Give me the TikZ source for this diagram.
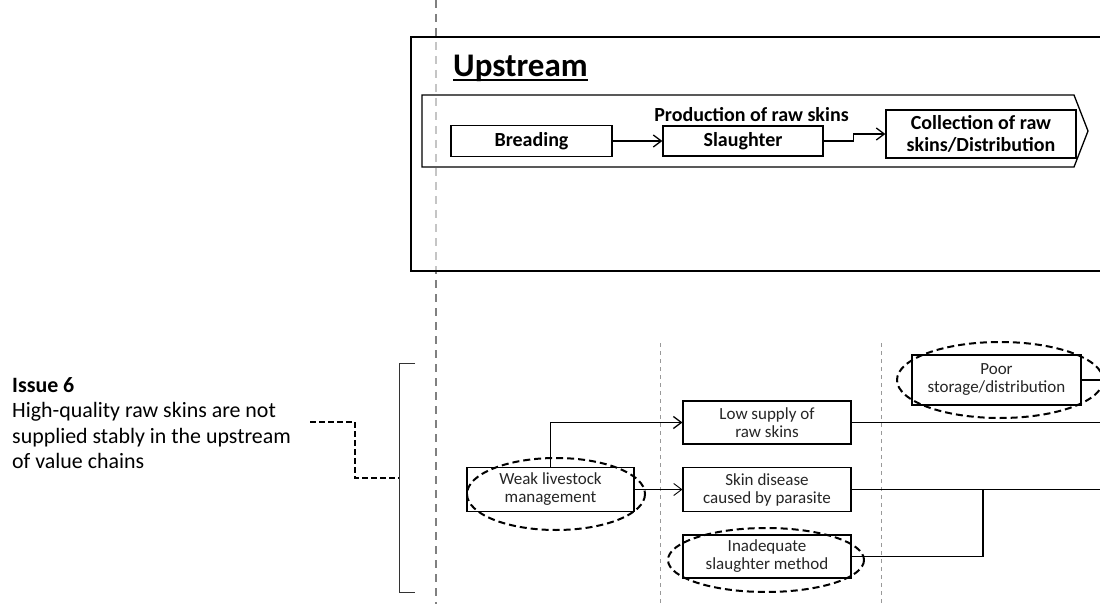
\documentclass[tikz,border=0pt]{standalone}
\usepackage{fontspec}
\setmainfont{Carlito}
\usetikzlibrary{arrows.meta}
\begin{document}
\begin{tikzpicture}[x=1pt,y=-1pt,
  box/.style={draw, line width=1.3pt, fill=white, inner sep=0pt, align=center},
  upbox/.style={box, font=\bfseries\fontsize{20}{21.5}\selectfont},
  lowbox/.style={box, line width=1.1pt, font=\fontsize{17}{18}\selectfont, text=black!85},
  flow/.style={line width=1.3pt, -{Straight Barb[length=8pt,width=12pt]}},
  link/.style={line width=1.3pt},
  ring/.style={line width=2pt, dash pattern=on 7pt off 4pt},
  issuelink/.style={line width=2pt, dash pattern=on 6pt off 3pt},
  mainaxis/.style={line width=2pt, black!50, dash pattern=on 8pt off 6pt},
  subaxis/.style={line width=0.9pt, black!40, dash pattern=on 4pt off 4pt},
  bracket/.style={line width=0.9pt, black!80}
]
\fill[white] (0,0) rectangle (1100,604);
\clip (0,0) rectangle (1100,604);

% value-chain axis
\draw[mainaxis] (436,0) -- (436,604);

% upstream panel
\draw[line width=1.3pt, fill=white, fill opacity=0.55] (411,37) rectangle (1112,271);
\node[anchor=base west, inner sep=0pt, font=\bfseries\fontsize{33}{36}\selectfont] (ttl) at (453,77) {Upstream};
\draw[line width=1.6pt] ([yshift=-3pt]ttl.base west) -- ([yshift=-3pt]ttl.base east);

% process chevron
\draw[line width=1.3pt] (422,95) -- (1074,95) -- (1088,131) -- (1074,167) -- (422,167) -- cycle;

\node[upbox, minimum width=161pt, minimum height=31pt] (bre) at (531.5,141) {Breading};
\node[upbox, minimum width=160pt, minimum height=30pt] (sla) at (743,141) {Slaughter};
\node[upbox, minimum width=190pt, minimum height=48pt] (col) at (981,134) {Collection of raw\\skins/Distribution};
\node[inner sep=0pt, font=\bfseries\fontsize{20}{21.5}\selectfont] (prod) at (751.5,115) {Production of raw skins};

\draw[flow] (bre.east) -- (sla.west);
\draw[flow] (sla.east) -- ++(30,0) |- (col.west);

% stage separators
\draw[subaxis] (660,343) -- (660,604);
\draw[subaxis] (881,343) -- (881,604);

% causes
\node[lowbox, minimum width=167pt, minimum height=44pt] (weak) at (550.5,489.5) {Weak livestock\\management};
\node[lowbox, minimum width=168pt, minimum height=43pt] (low) at (767,422.5) {Low supply of\\raw skins};
\node[lowbox, minimum width=168pt, minimum height=44pt] (skin) at (767,489.5) {Skin disease\\caused by parasite};
\node[lowbox, minimum width=168pt, minimum height=43pt] (inad) at (767,556.5) {Inadequate\\slaughter method};
\node[lowbox, minimum width=169pt, minimum height=50pt] (poor) at (996.5,380) {Poor\\storage/distribution};

\coordinate (lowEnd) at (1112,422.5);
\coordinate (skinEnd) at (1112,489.5);
\coordinate (join) at (983,489.5);
\coordinate (poorEnd) at (1112,380);

\draw[flow] (weak.north) |- (low.west);
\draw[flow, line width=0.9pt] (weak.east) -- (skin.west);
\draw[link] (low.east) -- (lowEnd);
\draw[link] (skin.east) -- (skinEnd);
\draw[link] (inad.east) -| (join);
\draw[link] (poor.east) -- (poorEnd);

% highlighted causes
\draw[ring] (556,494) ellipse [x radius=89, y radius=36];
\draw[ring] (766,560) ellipse [x radius=98, y radius=32];
\draw[ring] (1000,380) ellipse [x radius=103, y radius=38];

% issue statement
\node[anchor=north west, inner sep=0pt, align=left, font=\fontsize{21.9}{25.5}\selectfont] (issue) at (12,377)
  {\textbf{Issue 6}\\High-quality raw skins are not\\supplied stably in the upstream\\of value chains};

\coordinate (brTop) at (415,363);
\coordinate (brBot) at (415,592);
\coordinate (brMid) at (399,478);
\coordinate (issEnd) at (310,422);
\draw[bracket] (brTop) -- (399,363) -- (399,592) -- (brBot);
\draw[issuelink] (issEnd) -- (355,422) |- (brMid);
\end{tikzpicture}
\end{document}
